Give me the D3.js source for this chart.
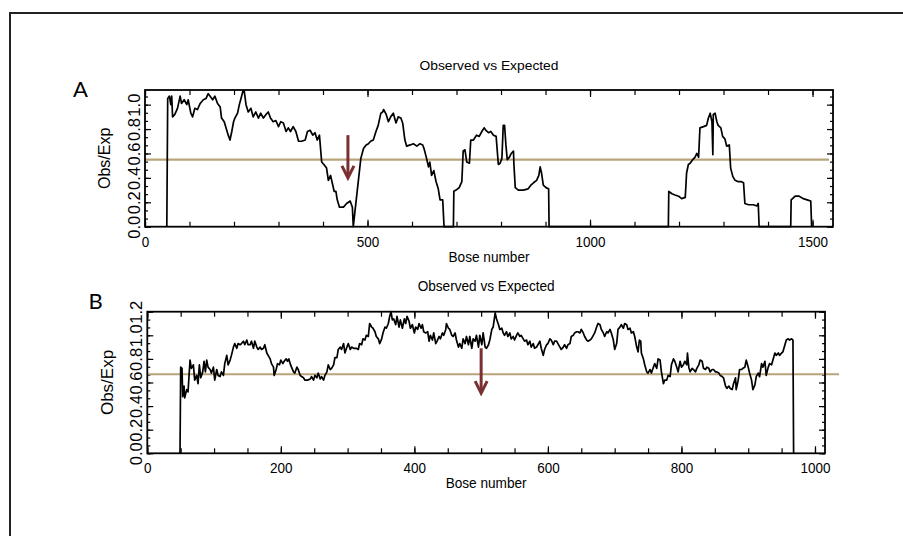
<!DOCTYPE html>
<html>
<head>
<meta charset="utf-8">
<script src="https://cdn.jsdelivr.net/npm/d3@7"></script>
<style>
  html, body { margin: 0; padding: 0; background: #fff; }
  svg { display: block; }
</style>
</head>
<body>
<svg id="chart" width="903" height="536"></svg>
<script>
// Observed vs Expected CpG profile, two sequences (A and B)
// [base number, obs/exp]
const profileA = [
  [49,0],[51,1.05],[55,1.07],[58,1.0],[60,1.07],[62,0.90],[67,0.92],[73,0.97],[79,1.07],[82,1.01],[88,1.04],[94,1.0],[97,1.04],
  [103,0.93],[107,0.90],[112,0.97],[118,0.96],[124,1.01],[131,1.04],[137,1.05],[142,1.09],[146,1.07],[152,1.04],[157,1.07],
  [163,1.01],[169,0.98],[172,0.89],[178,0.86],[182,0.81],[187,0.75],[191,0.71],[195,0.78],[199,0.86],[202,0.89],[208,0.93],
  [212,1.0],[215,1.04],[220,1.11],[223,1.11],[227,1.0],[232,0.94],[238,0.97],[243,0.90],[249,0.94],[255,0.89],[260,0.93],
  [266,0.89],[272,0.92],[277,0.94],[282,0.89],[288,0.86],[294,0.87],[300,0.82],[305,0.86],[311,0.85],[317,0.78],[322,0.81],
  [327,0.78],[333,0.82],[339,0.78],[345,0.70],[352,0.70],[360,0.71],[365,0.78],[371,0.79],[377,0.75],[382,0.77],[387,0.71],
  [392,0.75],[397,0.53],[402,0.51],[408,0.48],[412,0.38],[417,0.42],[422,0.34],[425,0.29],[429,0.29],[432,0.22],[437,0.16],
  [446,0.16],[453,0.19],[461,0.21],[466,0.16],[468,0],[485,0.56],[491,0.64],[497,0.67],[502,0.68],[507,0.70],[513,0.71],
  [519,0.78],[524,0.83],[530,0.93],[534,0.94],[536,0.96],[542,0.92],[547,0.86],[552,0.90],[558,0.93],[564,0.85],[569,0.90],
  [575,0.89],[579,0.85],[584,0.71],[588,0.66],[596,0.67],[603,0.68],[611,0.66],[618,0.68],[624,0.67],[627,0.64],[632,0.57],
  [637,0.49],[640,0.53],[644,0.42],[649,0.46],[654,0.37],[659,0.31],[663,0.22],[669,0.22],[672,0],[693,0],[694,0.29],
  [699,0.30],[706,0.32],[712,0.37],[715,0.62],[719,0.63],[723,0.53],[729,0.52],[732,0.71],[738,0.71],[745,0.75],[751,0.74],
  [757,0.78],[762,0.81],[766,0.79],[772,0.77],[777,0.78],[783,0.75],[789,0.74],[794,0.51],[798,0.52],[802,0.56],[805,0.83],
  [808,0.83],[811,0.67],[814,0.55],[819,0.57],[823,0.60],[828,0.62],[829,0.51],[832,0.32],[839,0.30],[850,0.30],[861,0.31],
  [867,0.34],[873,0.36],[880,0.38],[885,0.42],[888,0.49],[891,0.44],[895,0.34],[901,0.32],[907,0.31],[908,0],[1176,0],
  [1177,0.29],[1184,0.27],[1191,0.26],[1199,0.25],[1206,0.23],[1214,0.24],[1217,0.44],[1221,0.51],[1225,0.52],[1231,0.55],
  [1236,0.57],[1240,0.60],[1244,0.57],[1247,0.81],[1255,0.82],[1262,0.83],[1266,0.89],[1270,0.93],[1274,0.86],[1276,0.59],
  [1277,0.92],[1281,0.93],[1285,0.86],[1288,0.83],[1294,0.81],[1298,0.74],[1303,0.72],[1307,0.66],[1313,0.67],[1316,0.48],
  [1321,0.41],[1326,0.38],[1332,0.37],[1339,0.37],[1345,0.36],[1348,0.19],[1356,0.18],[1367,0.18],[1375,0.17],[1378,0.19],
  [1380,0],[1451,0],[1452,0.22],[1461,0.25],[1470,0.25],[1479,0.23],[1488,0.22],[1496,0.21],[1498,0]
];

const profileB = [
  [49,0],[50,0.73],[52,0.72],[53,0.48],[55,0.57],[56,0.47],[59,0.54],[61,0.52],[64,0.79],[66,0.72],[69,0.75],[71,0.62],
  [74,0.66],[76,0.59],[78,0.75],[80,0.64],[83,0.69],[85,0.78],[87,0.69],[89,0.79],[91,0.73],[94,0.71],[96,0.68],[99,0.73],
  [101,0.62],[104,0.71],[106,0.66],[109,0.65],[111,0.69],[114,0.66],[116,0.76],[119,0.83],[121,0.75],[124,0.79],[126,0.83],
  [129,0.90],[131,0.93],[134,0.89],[136,0.93],[139,0.92],[141,0.93],[144,0.95],[146,0.92],[149,0.96],[151,0.92],[154,0.92],
  [156,0.95],[159,0.89],[161,0.95],[164,0.90],[166,0.88],[169,0.90],[171,0.88],[174,0.89],[176,0.92],[179,0.85],[181,0.83],
  [184,0.80],[186,0.76],[189,0.73],[190,0.66],[193,0.71],[195,0.76],[198,0.75],[200,0.79],[203,0.76],[205,0.78],[208,0.80],
  [210,0.78],[212,0.80],[214,0.76],[216,0.73],[219,0.69],[221,0.68],[224,0.73],[226,0.71],[229,0.66],[231,0.65],[234,0.64],
  [236,0.62],[240,0.62],[244,0.63],[246,0.65],[249,0.62],[251,0.66],[254,0.64],[256,0.68],[259,0.63],[261,0.65],[264,0.62],
  [266,0.66],[269,0.69],[271,0.75],[274,0.71],[276,0.72],[279,0.75],[281,0.81],[284,0.81],[286,0.88],[289,0.90],[291,0.88],
  [294,0.93],[296,0.85],[299,0.90],[301,0.93],[304,0.88],[306,0.90],[309,0.89],[313,0.89],[316,0.88],[318,0.93],[321,0.92],
  [323,0.97],[326,0.96],[328,1.0],[331,0.99],[333,1.10],[336,1.07],[338,1.06],[341,1.03],[343,0.99],[346,0.97],[348,0.93],
  [351,0.97],[353,1.02],[356,1.07],[358,1.06],[361,1.10],[363,1.16],[365,1.20],[367,1.13],[369,1.14],[372,1.09],[374,1.16],
  [377,1.07],[379,1.13],[382,1.06],[385,1.14],[387,1.10],[389,1.16],[392,1.12],[394,1.06],[397,1.09],[400,1.02],[402,1.07],
  [405,1.05],[407,1.10],[410,1.06],[412,1.09],[414,1.03],[417,1.02],[420,1.03],[422,0.95],[424,1.0],[427,0.96],[429,1.02],
  [432,0.93],[434,0.95],[437,0.99],[439,0.97],[442,1.02],[444,1.0],[447,1.05],[448,1.10],[451,1.06],[453,1.05],[456,1.0],
  [458,0.99],[461,1.02],[463,0.96],[466,0.90],[468,0.93],[471,0.89],[473,0.97],[476,0.93],[478,0.99],[481,0.92],[483,0.99],
  [486,0.89],[488,0.97],[491,0.95],[493,1.0],[496,0.90],[498,1.0],[501,0.92],[503,1.02],[506,0.90],[508,0.89],[511,0.92],
  [513,0.96],[516,1.05],[518,1.07],[521,1.19],[523,1.14],[526,1.09],[528,1.05],[531,1.06],[533,1.02],[535,1.0],[538,1.03],
  [540,0.99],[543,1.02],[545,0.97],[548,0.99],[550,0.96],[553,1.0],[555,1.02],[558,0.99],[560,1.0],[563,0.97],[565,0.95],
  [568,0.96],[570,0.92],[573,0.95],[575,0.90],[578,0.93],[580,0.89],[583,0.90],[585,0.92],[588,0.95],[590,0.89],[593,0.83],
  [595,0.88],[598,0.92],[600,0.93],[603,0.97],[605,0.96],[608,0.92],[610,0.95],[613,0.95],[615,0.93],[618,0.90],[620,0.88],
  [623,0.90],[625,0.92],[628,0.89],[630,0.92],[633,0.93],[635,0.99],[638,1.0],[640,1.02],[643,1.03],[645,1.03],[648,1.02],
  [650,1.05],[653,1.02],[655,0.99],[658,0.96],[660,0.95],[663,0.96],[665,0.97],[668,1.0],[670,1.02],[673,1.07],[675,1.10],
  [678,1.09],[680,1.05],[683,1.02],[685,0.99],[688,1.03],[690,1.02],[693,1.05],[695,1.02],[698,0.96],[700,0.88],[703,0.93],
  [705,1.05],[708,1.07],[710,1.09],[713,1.06],[715,1.10],[718,1.09],[720,1.05],[723,1.06],[725,1.02],[728,1.03],[730,0.99],
  [733,0.90],[735,0.86],[737,0.96],[739,0.95],[740,0.85],[743,0.80],[745,0.75],[748,0.69],[750,0.68],[753,0.71],[755,0.68],
  [758,0.73],[760,0.76],[763,0.72],[765,0.80],[768,0.79],[770,0.69],[773,0.59],[775,0.62],[778,0.62],[780,0.66],[783,0.65],
  [785,0.75],[788,0.80],[790,0.78],[793,0.73],[795,0.69],[798,0.78],[800,0.73],[803,0.75],[805,0.78],[808,0.75],[809,0.85],
  [811,0.73],[813,0.69],[816,0.72],[818,0.71],[821,0.69],[823,0.72],[826,0.75],[828,0.79],[831,0.78],[833,0.72],[836,0.71],
  [838,0.73],[841,0.72],[843,0.69],[846,0.71],[848,0.71],[851,0.69],[853,0.69],[856,0.68],[858,0.66],[861,0.65],[863,0.64],
  [866,0.57],[868,0.55],[871,0.57],[873,0.55],[876,0.54],[878,0.59],[881,0.64],[882,0.54],[885,0.62],[887,0.71],[890,0.71],
  [892,0.72],[895,0.73],[897,0.79],[900,0.73],[902,0.68],[905,0.62],[907,0.54],[910,0.58],[912,0.65],[915,0.68],[917,0.65],
  [920,0.76],[922,0.73],[925,0.78],[927,0.66],[930,0.73],[932,0.76],[935,0.75],[937,0.79],[940,0.85],[942,0.83],[945,0.85],
  [947,0.83],[950,0.85],[952,0.86],[955,0.92],[957,0.96],[960,0.97],[962,0.96],[965,0.97],[967,0.96],[968,0]
];

// axis ticks and labels
const xTicksA = d3.range(0, 1501, 100);
const xLabelsA = [0, 500, 1000, 1500];
const xTicksB = d3.range(0, 1001, 50);
const xLabelsB = [0, 200, 400, 600, 800, 1000];
const yLabelsA = [0, 0.2, 0.4, 0.6, 0.8, 1.0];
const yLabelsB = [0, 0.2, 0.4, 0.6, 0.8, 1.0, 1.2];

// threshold line [value, x start, x end] and arrow [base, top, tip]
const thresholdA = [0.55, 0, 1537];
const thresholdB = [0.67, 0, 1036];
const arrowA = [456, 0.75, 0.40];
const arrowB = [500, 0.89, 0.51];

const TITLE = 'Observed vs Expected';
const XTITLE = 'Bose number';
const YTITLE = 'Obs/Exp';

const svg = d3.select('#chart');
const thin = '"Liberation Sans", Arial, sans-serif';

// outer figure frame (right and bottom edges fall outside the picture)
svg.append('rect')
  .attr('x', 10).attr('y', 13)
  .attr('width', 905).attr('height', 540)
  .attr('fill', 'none').attr('stroke', '#222').attr('stroke-width', 2);

const panels = [
  {
    letter: 'A', letterPos: [80.5, 97],
    data: profileA, xDomain: [0, 1546], yDomain: [0, 1.12],
    box: { left: 145, right: 833, top: 90, bottom: 226.7 },
    xTicks: xTicksA, xLabels: xLabelsA, yLabels: yLabelsA,
    threshold: thresholdA, arrow: arrowA,
    titleY: 70, titleSize: 13, titleLen: 139,
    xTitleY: 262, yTitleX: 110, yTitleSize: 16, yLabelOff: -5
  },
  {
    letter: 'B', letterPos: [95.5, 309],
    data: profileB, xDomain: [0, 1015], yDomain: [0, 1.2],
    box: { left: 147.3, right: 825, top: 311.7, bottom: 453.3 },
    xTicks: xTicksB, xLabels: xLabelsB, yLabels: yLabelsB,
    threshold: thresholdB, arrow: arrowB,
    titleY: 291, titleSize: 14, titleLen: 137,
    xTitleY: 488, yTitleX: 113, yTitleSize: 17, yLabelOff: -5.8
  }
];

panels.forEach(drawPanel);

function styleAxis(g) {
  g.select('.domain').remove();
  g.attr('color', '#000');
  g.selectAll('.tick line').attr('stroke-width', 1.2);
  return g;
}

function drawPanel(p) {
  const b = p.box;
  const x = d3.scaleLinear().domain(p.xDomain).range([b.left, b.right]);
  const y = d3.scaleLinear().domain(p.yDomain).range([b.bottom, b.top]);
  const g = svg.append('g');

  // minor y ticks: three intervals per 0.2
  const yMinor = d3.range(0, 19).map(i => i * 0.2 / 3).filter(v => v <= p.yDomain[1] + 1e-6);
  const xMinor = p.xTicks;

  // bottom axis with labels
  g.append('g').attr('transform', `translate(0,${b.bottom})`)
    .call(d3.axisBottom(x).tickValues(xMinor).tickSize(-5).tickSizeOuter(0).tickFormat(''))
    .call(styleAxis);
  const bottomAxis = g.append('g').attr('transform', `translate(0,${b.bottom})`)
    .call(d3.axisBottom(x).tickValues(p.xLabels).tickSize(-7).tickSizeOuter(0).tickPadding(10).tickFormat(d3.format('d')))
    .call(styleAxis);
  bottomAxis.selectAll('.tick text')
    .attr('font-family', thin).attr('font-size', 14)
    .attr('textLength', d => String(d).length * 7.5)
    .attr('lengthAdjust', 'spacingAndGlyphs');

  // top axis
  g.append('g').attr('transform', `translate(0,${b.top})`)
    .call(d3.axisTop(x).tickValues(xMinor).tickSize(-5).tickSizeOuter(0).tickFormat(''))
    .call(styleAxis);
  g.append('g').attr('transform', `translate(0,${b.top})`)
    .call(d3.axisTop(x).tickValues(p.xLabels).tickSize(-7).tickSizeOuter(0).tickFormat(''))
    .call(styleAxis);

  // left axis with rotated labels
  g.append('g').attr('transform', `translate(${b.left},0)`)
    .call(d3.axisLeft(y).tickValues(yMinor).tickSize(-3).tickSizeOuter(0).tickFormat(''))
    .call(styleAxis);
  const leftAxis = g.append('g').attr('transform', `translate(${b.left},0)`)
    .call(d3.axisLeft(y).tickValues(p.yLabels).tickSize(-6).tickSizeOuter(0).tickFormat(d3.format('.1f')))
    .call(styleAxis);
  leftAxis.selectAll('.tick text')
    .attr('transform', 'rotate(-90)')
    .attr('x', 0).attr('y', p.yLabelOff).attr('dy', 0)
    .attr('text-anchor', 'middle')
    .attr('font-family', thin).attr('font-size', 17)
    .attr('textLength', 23).attr('lengthAdjust', 'spacingAndGlyphs');

  // right axis
  g.append('g').attr('transform', `translate(${b.right},0)`)
    .call(d3.axisRight(y).tickValues(yMinor).tickSize(-3).tickSizeOuter(0).tickFormat(''))
    .call(styleAxis);
  g.append('g').attr('transform', `translate(${b.right},0)`)
    .call(d3.axisRight(y).tickValues(p.yLabels).tickSize(-6).tickSizeOuter(0).tickFormat(''))
    .call(styleAxis);

  // expected-ratio threshold
  g.append('line')
    .attr('x1', x(p.threshold[1])).attr('x2', x(p.threshold[2]))
    .attr('y1', y(p.threshold[0])).attr('y2', y(p.threshold[0]))
    .attr('stroke', '#b9a37b').attr('stroke-width', 2.2);

  // profile line
  const line = d3.line().x(d => x(d[0])).y(d => y(d[1]));
  g.append('path')
    .datum(p.data)
    .attr('d', line)
    .attr('fill', 'none')
    .attr('stroke', '#000')
    .attr('stroke-width', 1.7)
    .attr('stroke-linejoin', 'round');

  // plot frame
  g.append('rect')
    .attr('x', b.left).attr('y', b.top)
    .attr('width', b.right - b.left).attr('height', b.bottom - b.top)
    .attr('fill', 'none').attr('stroke', '#000').attr('stroke-width', 1.8);

  // arrow annotation
  const ax = x(p.arrow[0]), aTop = y(p.arrow[1]), aTip = y(p.arrow[2]);
  const arrowColor = '#7a2f30';
  g.append('line')
    .attr('x1', ax).attr('x2', ax).attr('y1', aTop).attr('y2', aTip - 2)
    .attr('stroke', arrowColor).attr('stroke-width', 3);
  g.append('path')
    .attr('d', `M${ax - 6},${aTip - 12}L${ax},${aTip}L${ax + 6},${aTip - 12}`)
    .attr('fill', 'none').attr('stroke', arrowColor).attr('stroke-width', 3)
    .attr('stroke-linejoin', 'miter');

  // titles
  const cx = (b.left + b.right) / 2;
  g.append('text')
    .attr('x', cx).attr('y', p.titleY)
    .attr('text-anchor', 'middle')
    .attr('font-family', thin).attr('font-size', p.titleSize)
    .attr('textLength', p.titleLen).attr('lengthAdjust', 'spacingAndGlyphs')
    .text(TITLE);
  g.append('text')
    .attr('x', cx).attr('y', p.xTitleY)
    .attr('text-anchor', 'middle')
    .attr('font-family', thin).attr('font-size', 14)
    .attr('textLength', 81).attr('lengthAdjust', 'spacingAndGlyphs')
    .text(XTITLE);
  g.append('text')
    .attr('transform', `translate(${p.yTitleX},${(b.top + b.bottom) / 2}) rotate(-90)`)
    .attr('text-anchor', 'middle')
    .attr('font-family', thin).attr('font-size', p.yTitleSize)
    .text(YTITLE);

  // panel letter
  svg.append('text')
    .attr('x', p.letterPos[0]).attr('y', p.letterPos[1])
    .attr('text-anchor', 'middle')
    .attr('font-family', 'Lato, "Open Sans", sans-serif').attr('font-size', 22)
    .text(p.letter);
}
</script>
</body>
</html>
